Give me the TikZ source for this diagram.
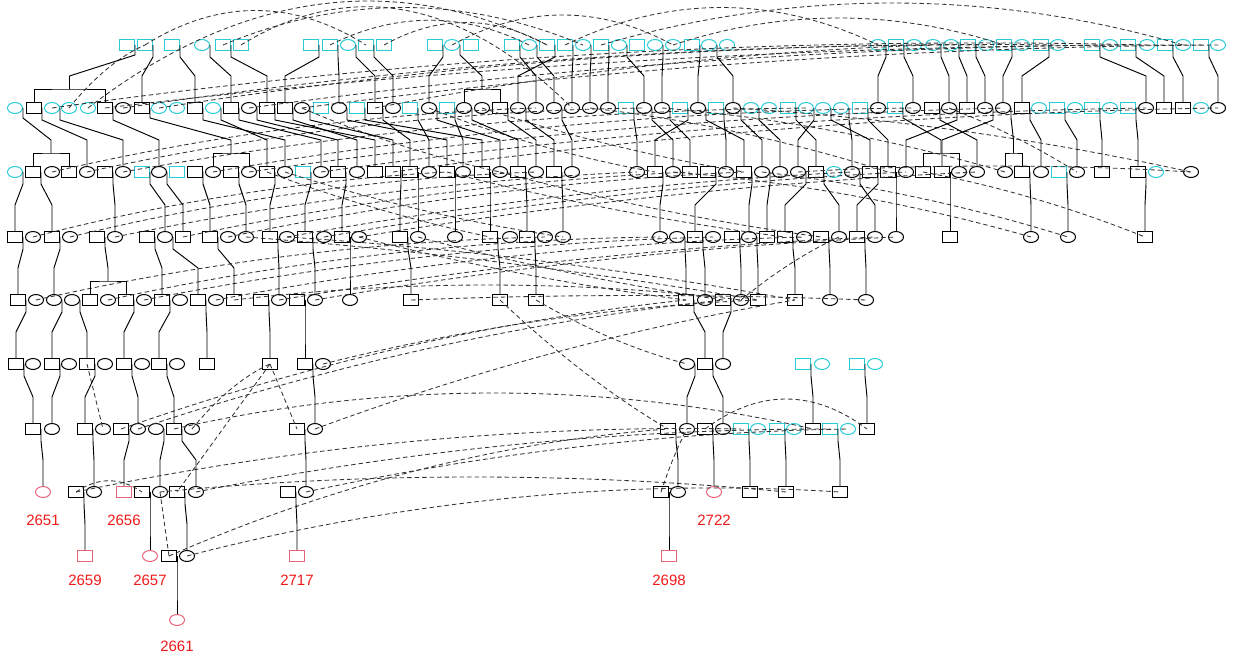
\documentclass[tikz,border=0pt]{standalone}
\usepackage{fontspec}
\setsansfont{Liberation Sans}
\usepackage{tikz}
\usetikzlibrary{positioning,shapes.geometric,calc}
\definecolor{pedcyan}{RGB}{40,205,215}
\definecolor{pedpink}{RGB}{232,100,120}
\definecolor{pedred}{RGB}{240,25,25}

\begin{document}
\begin{tikzpicture}[x=1pt,y=-1pt,
  male/.style={draw,rectangle,minimum width=15pt,minimum height=11pt,inner sep=0pt,line width=1pt},
  fem/.style={draw,ellipse,minimum width=15pt,minimum height=11pt,inner sep=0pt,line width=1pt},
  blk/.style={draw=black},cyn/.style={draw=pedcyan},pnk/.style={draw=pedpink},
  pedline/.style={line width=0.95pt,black},
  kid/.style={to path={(\tikztostart) -- ++(0,-12pt) -- ([yshift=26pt]\tikztotarget.north) -- (\tikztotarget.north)}},
  dup/.style={dash pattern=on 4.5pt off 3pt,line width=0.85pt,black!80},
  lbl/.style={inner sep=0pt,text=pedred,font=\sffamily\fontsize{15}{15}\selectfont}]
\useasboundingbox (0,0) rectangle (1235,657);

\foreach \x/\sx in {127/male,145/male,172/male,202/fem,223/male,241/male,311/male,330/male,348/fem,366/male,384/male,
  435/male,452/fem,471/male,512/male,529/fem,547/male,565/male,583/fem,601/male,619/fem,637/male,655/fem,673/fem,
  692/male,709/fem,727/fem,878/fem,896/male,914/fem,933/fem,951/fem,968/male,986/fem,1004/male,1022/fem,1041/male,
  1058/fem,1092/male,1110/fem,1128/male,1147/fem,1165/male,1183/fem,1201/male,1218/fem}
  \node[\sx,cyn] (r1-\x) at (\x,45) {};
\foreach \x/\sx/\cl in {15/fem/cyn,34/male/blk,52/fem/cyn,69/fem/cyn,88/fem/cyn,105/male/blk,123/fem/blk,142/male/blk,
  159/fem/cyn,177/fem/cyn,195/male/blk,213/fem/cyn,231/male/blk,249/fem/blk,267/male/blk,285/male/blk,302/fem/blk,
  321/male/cyn,339/fem/blk,357/male/cyn,375/male/blk,393/fem/blk,410/male/cyn,429/fem/blk,447/male/cyn,464/fem/blk,
  482/fem/blk,500/male/blk,518/fem/blk,536/fem/blk,554/fem/blk,572/fem/blk,590/fem/blk,608/fem/blk,626/male/cyn,
  644/fem/blk,662/fem/blk,680/male/cyn,698/fem/blk,716/male/cyn,733/fem/blk,751/fem/cyn,769/fem/cyn,788/male/cyn,
  806/fem/cyn,823/fem/cyn,841/fem/cyn,860/male/cyn,878/fem/blk,895/male/cyn,913/fem/blk,932/male/blk,949/fem/blk,
  967/male/blk,985/fem/blk,1003/fem/blk,1022/male/blk,1039/fem/cyn,1057/male/cyn,1075/fem/cyn,1092/male/cyn,
  1110/fem/cyn,1128/male/cyn,1146/fem/blk,1164/male/blk,1183/male/blk,1201/fem/cyn,1218/fem/blk}
  \node[\sx,\cl] (r2-\x) at (\x,108) {};
\foreach \x/\sx/\cl in {15/fem/cyn,33/male/blk,52/fem/blk,69/male/blk,87/fem/blk,105/male/blk,123/fem/blk,142/male/cyn,
  159/fem/blk,177/male/cyn,195/male/blk,213/fem/blk,231/male/blk,249/fem/blk,267/male/blk,285/fem/blk,303/male/cyn,
  321/fem/blk,338/male/blk,357/fem/blk,375/male/blk,393/male/blk,410/male/blk,429/fem/blk,447/male/blk,463/fem/blk,
  482/male/blk,500/fem/blk,518/male/blk,536/fem/blk,554/male/blk,572/fem/blk,637/fem/blk,655/male/blk,673/fem/blk,
  690/male/blk,708/male/blk,726/fem/blk,744/male/blk,762/fem/blk,780/fem/blk,798/fem/blk,816/male/blk,834/fem/cyn,
  852/fem/blk,870/male/blk,888/male/blk,906/fem/blk,923/male/blk,942/male/blk,959/fem/blk,977/fem/blk,1005/fem/blk,
  1022/male/blk,1041/fem/blk,1059/male/cyn,1077/fem/blk,1102/male/blk,1138/male/blk,1156/fem/cyn,1191/fem/blk}
  \node[\sx,\cl] (r3-\x) at (\x,172) {};
\foreach \x/\sx in {15/male,33/fem,52/male,70/fem,97/male,115/fem,147/male,165/fem,183/male,210/male,228/fem,246/fem,
  270/male,287/fem,305/male,324/fem,342/male,359/fem,400/male,418/fem,455/fem,490/male,510/fem,527/male,545/fem,
  563/fem,660/fem,677/fem,695/male,713/fem,732/male,749/fem,767/male,785/male,804/fem,821/male,839/fem,857/male,
  875/fem,896/fem,950/male,1031/fem,1068/fem,1145/male}
  \node[\sx,blk] (r4-\x) at (\x,237) {};
\foreach \x/\sx in {18/male,36/fem,54/fem,72/fem,90/male,108/fem,126/male,144/fem,162/male,180/fem,198/male,216/fem,
  234/male,261/male,279/fem,297/male,315/fem,350/fem,411/male,500/male,536/male,686/male,705/fem,723/male,741/fem,
  758/male,795/male,830/fem,866/fem}
  \node[\sx,blk] (r5-\x) at (\x,300) {};
\foreach \x/\sx/\cl in {16/male/blk,33/fem/blk,52/male/blk,69/fem/blk,87/male/blk,105/fem/blk,124/male/blk,142/fem/blk,
  159/male/blk,177/fem/blk,207/male/blk,270/male/blk,305/male/blk,323/fem/blk,687/fem/blk,705/male/blk,723/fem/blk,
  803/male/cyn,822/fem/cyn,857/male/cyn,875/fem/cyn}
  \node[\sx,\cl] (r6-\x) at (\x,364) {};
\foreach \x/\sx/\cl in {33/male/blk,52/fem/blk,85/male/blk,103/fem/blk,121/male/blk,138/fem/blk,156/fem/blk,174/male/blk,
  192/fem/blk,297/male/blk,315/fem/blk,668/male/blk,687/fem/blk,705/male/blk,723/fem/blk,741/male/cyn,758/fem/cyn,
  777/male/cyn,794/fem/cyn,813/male/blk,830/male/cyn,848/fem/cyn,867/male/blk}
  \node[\sx,\cl] (r7-\x) at (\x,429) {};
\foreach \x/\sx/\cl in {43/fem/pnk,76/male/blk,94/fem/blk,124/male/pnk,142/male/blk,160/fem/blk,177/male/blk,196/fem/blk,
  288/male/blk,306/fem/blk,661/male/blk,678/fem/blk,714/fem/pnk,750/male/blk,786/male/blk,840/male/blk}
  \node[\sx,\cl] (r8-\x) at (\x,492) {};
\foreach \x/\sx/\cl in {85/male/pnk,150/fem/pnk,169/male/blk,187/fem/blk,297/male/pnk,669/male/pnk}
  \node[\sx,\cl] (r9-\x) at (\x,556) {};
\node[fem,pnk] (r10-177) at (177,620) {};

\node[lbl,below=17pt of r8-43] (l2651) {2651};
\node[lbl,below=17pt of r8-124] (l2656) {2656};
\node[lbl,below=17pt of r8-714] (l2722) {2722};
\node[lbl,below=13pt of r9-85] (l2659) {2659};
\node[lbl,below=13pt of r9-150] (l2657) {2657};
\node[lbl,below=13pt of r9-297] (l2717) {2717};
\node[lbl,below=13pt of r9-669] (l2698) {2698};
\node[lbl,below=15pt of r10-177] (l2661) {2661};

\foreach \a/\b/\h in {r2-88/r1-547/-96,r1-241/r2-572/-88,r1-384/r1-547/-30,r1-565/r1-878/-50,r1-601/r1-1183/-56,
  r1-673/r1-1004/-36,r1-145/r1-366/-46,r1-330/r1-529/-33,r1-452/r1-673/-40,r1-223/r1-583/-50,r2-69/r1-145/-10,
  r2-52/r1-1147/-30,r2-105/r1-1201/-22,r2-123/r1-1058/-25,r2-249/r1-1110/-18,r2-159/r1-986/-22,r2-302/r1-1218/-19,
  r2-375/r1-933/-15,
  r3-52/r2-536/-16,r3-87/r2-644/-19,r3-123/r2-806/-19,r3-213/r2-913/-19,r3-249/r2-1003/-15,r3-321/r2-1146/-17,
  r3-393/r2-1218/-17,r2-302/r3-500/7,r2-429/r3-655/8,r2-662/r3-1005/-12,r2-733/r3-1191/-12,r2-590/r3-888/-10,
  r3-798/r3-1191/-8,r2-482/r3-744/7,r2-949/r3-1077/-5,
  r4-33/r3-447/-14,r4-70/r3-536/-16,r4-115/r3-637/-14,r4-228/r3-744/-14,r4-287/r3-852/-12,r4-324/r3-906/-12,
  r4-359/r3-977/-12,r4-183/r3-690/-14,r3-267/r4-490/6,r3-285/r4-563/8,r3-447/r4-785/7,r3-500/r4-821/7,
  r3-673/r4-1031/-12,r3-762/r4-1068/-10,r3-923/r4-1145/-8,
  r5-36/r4-545/-17,r5-108/r4-660/-19,r5-144/r4-713/-16,r5-216/r4-804/-16,r5-279/r4-875/-12,r5-315/r4-896/-12,
  r4-359/r5-686/7,r4-418/r5-723/6,r5-741/r4-839/-6,r5-411/r5-866/-6,r4-287/r5-795/-10,r4-246/r5-758/-8,
  r5-234/r5-741/-20,
  r7-121/r5-686/-23,r7-138/r5-723/-22,r6-323/r5-758/-15,r7-315/r5-795/-16,r7-174/r7-813/-48,r8-196/r7-830/-21,
  r8-306/r7-848/-18,r9-187/r8-840/-35,r6-87/r7-103/0,r6-270/r7-297/0,r6-270/r8-177/0,r8-160/r9-169/0,
  r8-76/r8-142/-15,r9-169/r7-668/-30,r8-76/r7-741/-25,r7-192/r6-270/-10,r7-705/r7-867/-40,r5-536/r6-687/8,
  r5-500/r7-668/10,r8-661/r7-687/-5,r8-160/r8-786/-20}
  \draw[dup] (\a.center) .. controls ($(\a.center)!0.33!(\b.center)+(0,\h)$)
    and ($(\a.center)!0.67!(\b.center)+(0,\h)$) .. (\b.center);

\foreach \a/\b in {r1-145/r2-142,r1-172/r2-195,r1-202/r2-231,r1-223/r2-267,r1-311/r2-285,r1-330/r2-339,r1-348/r2-375,
  r1-366/r2-393,r1-435/r2-429,r1-512/r2-536,r1-529/r2-554,r1-547/r2-518,r1-565/r2-572,r1-583/r2-590,r1-601/r2-608,
  r1-619/r2-644,r1-655/r2-662,r1-692/r2-698,r1-709/r2-733,r1-878/r2-878,r1-896/r2-913,r1-933/r2-949,r1-951/r2-967,
  r1-968/r2-985,r1-1004/r2-1003,r1-1041/r2-1022,r1-1092/r2-1146,r1-1128/r2-1164,r1-1165/r2-1183,r1-1201/r2-1218,
  r2-34/r3-87,r2-52/r3-123,r2-105/r3-159,r2-195/r3-285,r2-213/r3-267,r2-231/r3-321,r2-249/r3-338,r2-267/r3-375,
  r2-285/r3-357,r2-302/r3-393,r2-339/r3-447,r2-357/r3-482,r2-375/r3-410,r2-410/r3-429,r2-429/r3-500,r2-447/r3-463,
  r2-464/r3-518,r2-500/r3-536,r2-518/r3-554,r2-554/r3-572,r2-626/r3-637,r2-644/r3-673,r2-662/r3-690,r2-680/r3-655,
  r2-698/r3-744,r2-716/r3-726,r2-733/r3-762,r2-751/r3-780,r2-788/r3-816,r2-806/r3-798,r2-823/r3-870,r2-841/r3-852,
  r2-860/r3-888,r2-932/r3-977,r2-949/r3-906,r2-985/r3-942,r2-1022/r3-1041,r2-1057/r3-1077,r2-1092/r3-1102,
  r2-1128/r3-1138,
  r3-15/r4-15,r3-33/r4-52,r3-105/r4-115,r3-142/r4-165,r3-159/r4-183,r3-195/r4-210,r3-231/r4-246,r3-267/r4-270,
  r3-303/r4-305,r3-338/r4-342,r3-393/r4-400,r3-410/r4-418,r3-447/r4-455,r3-482/r4-490,r3-518/r4-527,r3-554/r4-563,
  r3-655/r4-660,r3-708/r4-695,r3-744/r4-749,r3-762/r4-767,r3-798/r4-785,r3-816/r4-839,r3-852/r4-875,r3-870/r4-857,
  r3-888/r4-896,r3-942/r4-950,r3-1022/r4-1031,r3-1059/r4-1068,r3-1138/r4-1145,
  r4-15/r5-18,r4-52/r5-54,r4-147/r5-162,r4-165/r5-198,r4-210/r5-234,r4-270/r5-279,r4-305/r5-315,r4-342/r5-350,
  r4-400/r5-411,r4-490/r5-500,r4-527/r5-536,r4-677/r5-686,r4-695/r5-705,r4-732/r5-741,r4-749/r5-758,r4-785/r5-795,
  r4-821/r5-830,r4-857/r5-866,
  r5-18/r6-16,r5-54/r6-52,r5-72/r6-87,r5-126/r6-124,r5-162/r6-159,r5-198/r6-207,r5-261/r6-270,r5-297/r6-305,
  r5-686/r6-705,r5-723/r6-723,
  r6-16/r7-33,r6-52/r7-52,r6-87/r7-85,r6-124/r7-138,r6-159/r7-174,r6-305/r7-315,r6-687/r7-687,r6-705/r7-723,
  r6-803/r7-813,r6-857/r7-867,
  r7-33/r8-43,r7-85/r8-94,r7-121/r8-124,r7-156/r8-160,r7-174/r8-196,r7-297/r8-306,r7-668/r8-678,r7-705/r8-714,
  r7-741/r8-750,r7-777/r8-786,r7-830/r8-840,
  r8-76/r9-85,r8-142/r9-150,r8-177/r9-187,r8-288/r9-297,r8-661/r9-669,r9-169/r10-177}
  \draw[pedline] (\a.east) to[kid] (\b);

\foreach \a/\b/\c in {r1-127/r2-34/r2-105,r1-452/r2-464/r2-500,r2-15/r3-33/r3-69,r2-142/r3-213/r3-249,
  r2-895/r3-923/r3-959,r2-1003/r3-1005/r3-1022,r4-97/r5-90/r5-126}{
  \path (\b.north) -- coordinate[midway] (m) (\c.north);
  \draw[pedline] (\a.east) -- ++(0,-10pt) -- ([yshift=26pt]m) -- ([yshift=13pt]m);
  \draw[pedline] (\b.north) |- ([yshift=13pt]m) -| (\c.north);
}
\end{tikzpicture}
\end{document}
